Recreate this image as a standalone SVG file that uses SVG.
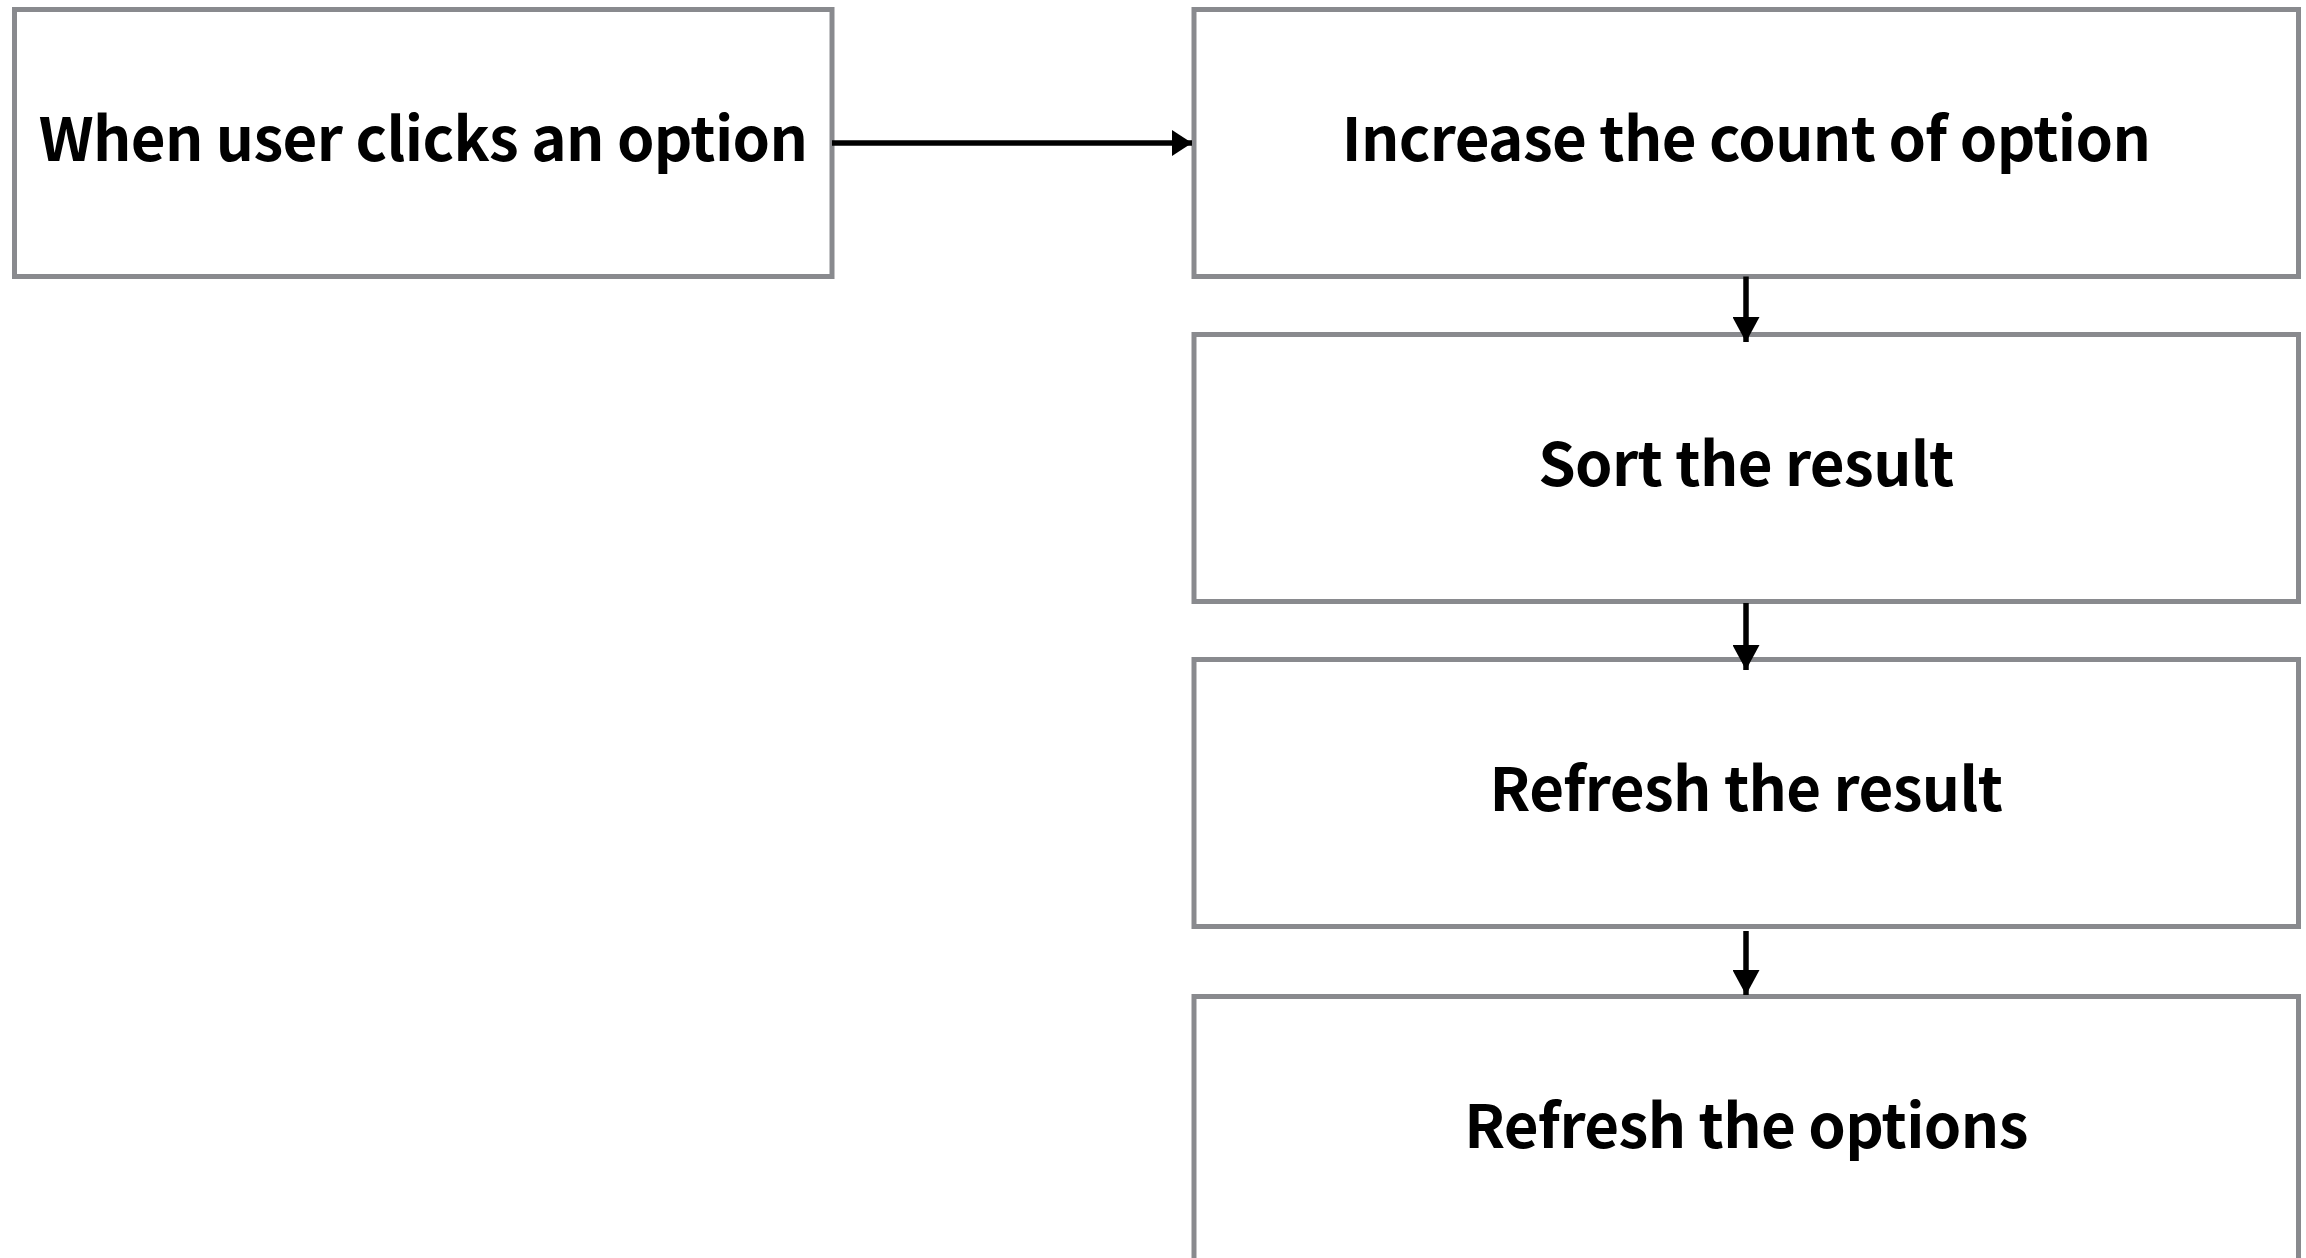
<svg xmlns="http://www.w3.org/2000/svg" width="2306" height="1258" viewBox="0 0 2306 1258">
<defs>
<style>
.box{fill:#fff;stroke:#898a8e;stroke-width:5}
.lbl{font-family:"Noto Sans CJK KR","Noto Sans",sans-serif;font-weight:700;font-size:60px;letter-spacing:-0.6px;fill:#000;text-anchor:middle}
.conn{stroke:#000;stroke-width:5.5;fill:none}
</style>
<marker id="ah" viewBox="0 0 20 26" refX="20" refY="13" markerWidth="20" markerHeight="26" orient="auto" markerUnits="userSpaceOnUse">
<path d="M0,0 L20,13 L0,26 Z" fill="#000"/>
</marker>
<marker id="av" viewBox="0 0 25 27" refX="25" refY="13.5" markerWidth="25" markerHeight="27" orient="auto" markerUnits="userSpaceOnUse">
<path d="M0,0 L25,13.5 L0,27 Z" fill="#000"/>
</marker>
</defs>
<rect width="2306" height="1258" fill="#fff"/>
<g id="n1"><rect class="box" x="14.5" y="9.5" width="817.5" height="267"/><text class="lbl" x="423" y="161">When user clicks an option</text></g>
<g id="n2"><rect class="box" x="1194" y="9.5" width="1104.5" height="267"/><text class="lbl" x="1746" y="161">Increase the count of option</text></g>
<g id="n3"><rect class="box" x="1194" y="334.5" width="1104.5" height="267"/><text class="lbl" x="1746" y="486">Sort the result</text></g>
<g id="n4"><rect class="box" x="1194" y="659.5" width="1104.5" height="267"/><text class="lbl" x="1746" y="811">Refresh the result</text></g>
<g id="n5"><rect class="box" x="1194" y="996.5" width="1104.5" height="267"/><text class="lbl" x="1746" y="1148">Refresh the options</text></g>
<g id="connectors">
<path class="conn" d="M832,143 H1192" marker-end="url(#ah)"/>
<path class="conn" d="M1746,276.5 V342" marker-end="url(#av)"/>
<path class="conn" d="M1746,603 V670" marker-end="url(#av)"/>
<path class="conn" d="M1746,931 V995" marker-end="url(#av)"/>
</g>
</svg>
